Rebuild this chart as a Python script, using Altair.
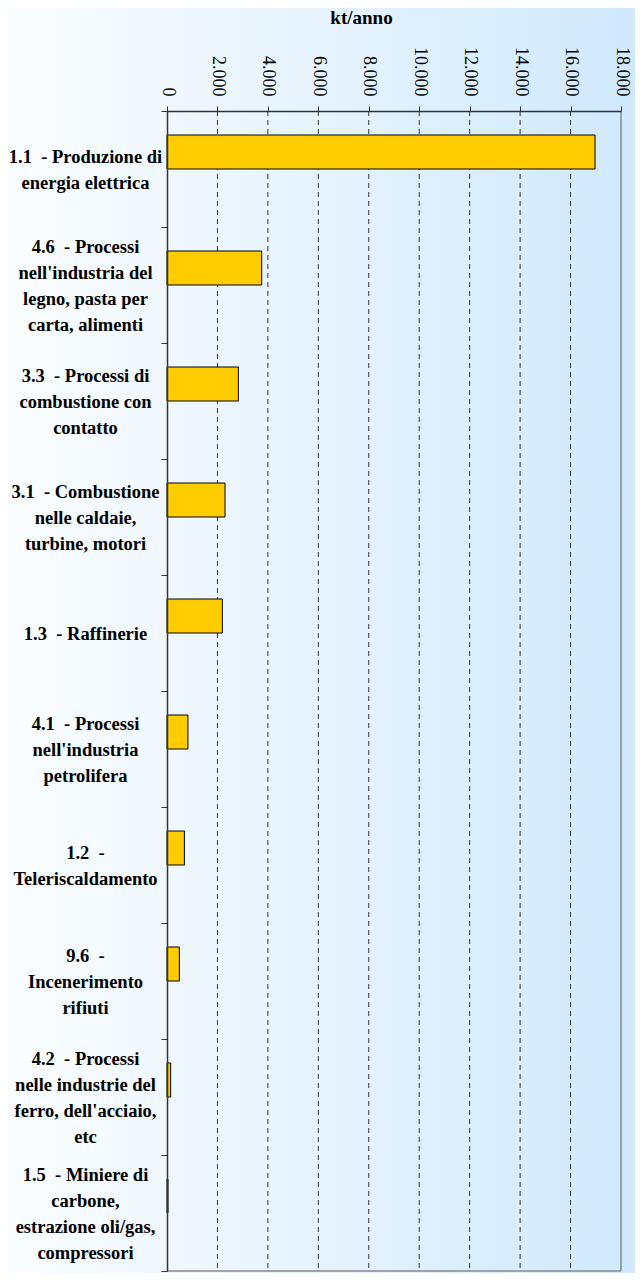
import altair as alt
import pandas as pd

categories = [
    "1.1\u00a0 - Produzione di|energia elettrica",
    "4.6\u00a0 - Processi|nell'industria del|legno, pasta per|carta, alimenti",
    "3.3\u00a0 - Processi di|combustione con|contatto",
    "3.1\u00a0 - Combustione|nelle caldaie,|turbine, motori",
    "1.3\u00a0 - Raffinerie",
    "4.1\u00a0 - Processi|nell'industria|petrolifera",
    "1.2\u00a0 -|Teleriscaldamento",
    "9.6\u00a0 -|Incenerimento|rifiuti",
    "4.2\u00a0 - Processi|nelle industrie del|ferro, dell'acciaio,|etc",
    "1.5\u00a0 - Miniere di|carbone,|estrazione oli/gas,|compressori",
]
values = [16970, 3755, 2830, 2300, 2195, 830, 690, 490, 145, 40]
x_ticks = [0, 2000, 4000, 6000, 8000, 10000, 12000, 14000, 16000, 18000]

W, H = 454, 1160
FONT = "Liberation Serif"
LH = 26

df = pd.DataFrame({"cat": categories, "val": values})
grid_df = pd.DataFrame({"val": x_ticks[1:-1]})
edge_df = pd.DataFrame({"val": x_ticks[-1:]})
one = pd.DataFrame({"k": [0]})

xscale = alt.Scale(domain=[x_ticks[0], x_ticks[-1]], nice=False, zero=True)
yscale = alt.Scale(paddingInner=0, paddingOuter=0)

x_axis = alt.Axis(
    orient="top",
    values=x_ticks,
    grid=False,
    labelAngle=90,
    labelAlign="right",
    labelBaseline="middle",
    labelPadding=10,
    labelFlush=False,
    labelOverlap=False,
    labelFont=FONT,
    labelFontSize=18,
    labelColor="#000",
    labelExpr="replace(format(datum.value, ','), ',', '.')",
    tickSize=5,
    tickColor="#333",
    domainColor="#333",
    domainWidth=1.5,
    title="kt/anno",
    titleFont=FONT,
    titleFontSize=19,
    titleFontWeight="bold",
    titleColor="#000",
    titleX=194,
    titleY=-94,
    titleAlign="center",
    titleBaseline="middle",
    zindex=1,
)

nlines = "length(split(datum.value, '|'))"
y_axis = alt.Axis(
    title=None,
    grid=False,
    labelExpr="split(datum.label, '|')",
    labelAlign="center",
    labelBaseline="middle",
    labelPadding=76,
    labelLineHeight=LH,
    labelOffset={
        "condition": [
            {"test": f"{nlines} == 4", "value": -1.5 * LH},
            {"test": f"{nlines} == 3", "value": -1.0 * LH},
            {"test": f"{nlines} == 2", "value": -0.5 * LH},
        ],
        "value": 0,
    },
    labelFont=FONT,
    labelFontSize=18.5,
    labelFontWeight="bold",
    labelColor="#000",
    labelLimit=0,
    labelOverlap=False,
    tickBand="extent",
    tickSize=6,
    tickColor="#333",
    domainColor="#333",
    domainWidth=1.5,
    zindex=1,
)

gradient = {
    "gradient": "linear",
    "x1": 0, "x2": 1, "y1": 0, "y2": 0,
    "stops": [
        {"offset": 0, "color": "#fafdff"},
        {"offset": 0.3, "color": "#eef7fe"},
        {"offset": 1, "color": "#d0e9fc"},
    ],
}

bg = alt.Chart(one).mark_rect(fill=gradient, strokeWidth=0).encode(
    x=alt.value(-159), x2=alt.value(W + 14), y=alt.value(-103), y2=alt.value(H + 2)
)

grid = alt.Chart(grid_df).mark_rule(color="#333", strokeDash=[5, 4], strokeWidth=1).encode(
    x=alt.X("val:Q", scale=xscale, axis=x_axis)
)
edge = alt.Chart(edge_df).mark_rule(color="#888", strokeWidth=1.5).encode(
    x=alt.X("val:Q", scale=xscale, axis=x_axis)
)
bottom = alt.Chart(one).mark_rule(color="#888", strokeWidth=1.5).encode(
    y=alt.value(H)
)

bars = alt.Chart(df).mark_bar(
    size=34, yOffset=-17, fill="#FFCC00", stroke="#000", strokeWidth=1
).encode(
    x=alt.X("val:Q", scale=xscale, axis=x_axis),
    y=alt.Y("cat:N", sort=categories, scale=yscale, axis=y_axis),
)

chart = (
    alt.layer(bg, grid, edge, bottom, bars)
    .properties(width=W, height=H, padding=0, background="white")
    .configure_view(stroke=None)
)

chart.save("out.html", embed_options={"renderer": "svg", "actions": False})
